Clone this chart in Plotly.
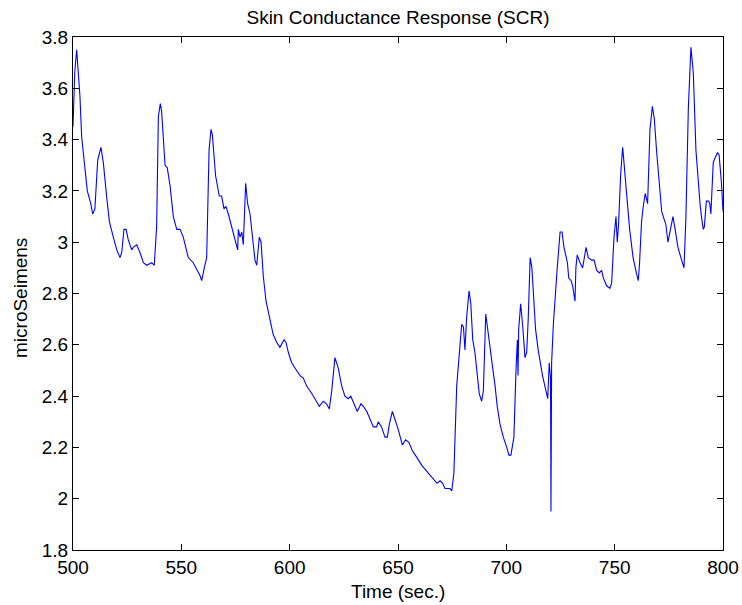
import plotly.graph_objects as go

time_sec = [
    500.0, 500.8, 501.7, 503.2, 504.0, 505.1, 506.6, 508.2, 509.1, 510.1,
    511.4, 512.9, 514.0, 515.5, 516.8, 518.6, 520.2, 521.7, 522.5, 523.5,
    524.5, 525.5, 527.1, 527.8, 529.4, 530.9, 532.5, 534.0, 536.3, 537.5,
    538.6, 539.4, 540.3, 540.9, 542.5, 543.5, 544.8, 546.3, 547.9, 549.4,
    550.9, 553.2, 555.5, 558.6, 559.4, 560.6, 561.7, 562.8, 563.7, 564.3,
    565.8, 567.5, 568.6, 569.7, 570.6, 571.7, 573.2, 575.5, 576.0, 576.3,
    577.1, 577.9, 578.6, 579.7, 580.6, 581.7, 582.5, 584.0, 584.8, 586.0,
    586.8, 587.8, 589.1, 590.9, 592.4, 594.0, 595.5, 597.4, 598.3, 599.4,
    600.9, 603.2, 604.8, 606.3, 607.8, 610.2, 612.2, 613.7, 615.5, 617.0,
    618.3, 619.4, 620.9, 622.4, 624.0, 625.5, 627.0, 628.2, 629.2, 631.2,
    632.9, 634.0, 635.6, 637.1, 638.6, 640.1, 640.9, 642.4, 644.0, 645.1,
    646.0, 647.4, 648.6, 650.1, 652.0, 653.5, 655.0, 656.5, 658.0, 661.0,
    664.0, 666.0, 668.0, 669.4, 670.6, 671.7, 674.0, 674.8, 675.8, 677.1,
    678.6, 679.4, 680.2, 680.9, 681.7, 682.8, 683.6, 684.5, 685.5, 686.6,
    687.5, 688.6, 689.4, 690.5, 691.7, 692.5, 693.7, 694.8, 695.8, 697.1,
    698.6, 700.2, 701.2, 702.1, 702.9, 703.5, 704.5, 705.1, 705.4, 705.7,
    706.6, 707.5, 708.6, 709.4, 710.1, 711.0, 711.8, 712.4, 713.5, 714.7,
    715.5, 716.7, 718.3, 719.1, 719.8, 720.4, 720.6, 720.9, 721.7, 722.5,
    723.5, 724.8, 725.7, 726.6, 727.5, 728.2, 728.8, 729.9, 730.6, 731.7,
    732.1, 732.7, 734.0, 735.2, 736.8, 737.8, 739.4, 740.5, 741.7, 742.9,
    744.0, 744.8, 746.3, 747.8, 748.6, 749.7, 750.6, 751.2, 751.8, 752.8,
    753.7, 754.4, 755.4, 756.9, 758.5, 760.0, 760.9, 761.5, 762.4, 763.2,
    764.1, 765.2, 766.3, 767.4, 768.3, 769.4, 770.6, 771.7, 772.8, 773.6,
    774.6, 775.4, 776.9, 778.1, 779.2, 780.9, 782.0, 782.9, 784.0, 785.2,
    786.3, 787.5, 788.6, 789.4, 790.2, 790.9, 791.4, 792.3, 793.4, 793.9,
    794.4, 795.5, 796.4, 797.5, 798.2, 799.3, 800.0,
]

micro_siemens = [
    3.45, 3.66, 3.75, 3.57, 3.41, 3.33, 3.20, 3.15, 3.11, 3.13,
    3.32, 3.37, 3.31, 3.18, 3.08, 3.02, 2.97, 2.94, 2.96, 3.05,
    3.05, 3.01, 2.97, 2.98, 2.99, 2.96, 2.92, 2.91, 2.92, 2.91,
    3.06, 3.49, 3.54, 3.51, 3.30, 3.29, 3.22, 3.10, 3.05, 3.05,
    3.02, 2.94, 2.92, 2.87, 2.85, 2.90, 2.94, 3.36, 3.44, 3.42,
    3.26, 3.18, 3.18, 3.13, 3.14, 3.11, 3.06, 2.99, 2.97, 3.05,
    3.02, 3.04, 2.99, 3.23, 3.15, 3.11, 3.05, 2.93, 2.91, 3.02,
    3.00, 2.87, 2.77, 2.70, 2.64, 2.61, 2.59, 2.62, 2.61, 2.57,
    2.53, 2.50, 2.48, 2.47, 2.44, 2.41, 2.38, 2.36, 2.38, 2.37,
    2.35, 2.42, 2.55, 2.51, 2.44, 2.40, 2.39, 2.40, 2.38, 2.34,
    2.37, 2.36, 2.34, 2.31, 2.28, 2.28, 2.30, 2.28, 2.24, 2.24,
    2.29, 2.34, 2.31, 2.27, 2.21, 2.23, 2.22, 2.19, 2.17, 2.13,
    2.10, 2.08, 2.06, 2.07, 2.06, 2.04, 2.04, 2.03, 2.10, 2.44,
    2.62, 2.68, 2.67, 2.58, 2.71, 2.81, 2.76, 2.62, 2.57, 2.48,
    2.41, 2.38, 2.42, 2.72, 2.64, 2.57, 2.51, 2.44, 2.36, 2.29,
    2.24, 2.20, 2.17, 2.17, 2.22, 2.24, 2.51, 2.62, 2.48, 2.66,
    2.76, 2.68, 2.55, 2.57, 2.70, 2.94, 2.90, 2.81, 2.66, 2.58,
    2.54, 2.48, 2.42, 2.39, 2.53, 2.47, 1.95, 2.53, 2.68, 2.80,
    2.90, 3.04, 3.04, 2.98, 2.94, 2.92, 2.86, 2.85, 2.83, 2.77,
    2.90, 2.95, 2.92, 2.90, 2.98, 2.94, 2.93, 2.93, 2.89, 2.88,
    2.89, 2.86, 2.83, 2.82, 2.84, 3.02, 3.10, 3.00, 3.07, 3.27,
    3.37, 3.31, 3.20, 3.05, 2.94, 2.88, 2.85, 2.92, 3.08, 3.14,
    3.19, 3.15, 3.44, 3.53, 3.48, 3.35, 3.24, 3.12, 3.09, 3.07,
    3.00, 3.04, 3.10, 3.04, 2.98, 2.93, 2.90, 3.10, 3.52, 3.76,
    3.66, 3.36, 3.22, 3.15, 3.09, 3.05, 3.06, 3.16, 3.16, 3.15,
    3.11, 3.31, 3.33, 3.35, 3.34, 3.23, 3.12,
]

x_ticks = [500, 550, 600, 650, 700, 750, 800]
y_ticks = [1.8, 2.0, 2.2, 2.4, 2.6, 2.8, 3.0, 3.2, 3.4, 3.6, 3.8]
y_tick_labels = ["1.8", "2", "2.2", "2.4", "2.6", "2.8", "3", "3.2", "3.4", "3.6", "3.8"]

title_text = "Skin Conductance Response (SCR)"
x_label = "Time (sec.)"
y_label = "microSeimens"

FONT = "Liberation Sans, Arial, sans-serif"

fig = go.Figure()
fig.add_trace(go.Scatter(
    x=time_sec, y=micro_siemens, mode="lines",
    line=dict(color="#0000FF", width=1.1), showlegend=False,
    hoverinfo="x+y",
))

axis_common = dict(
    showgrid=False, zeroline=False, showline=True, linecolor="black",
    linewidth=1, mirror="allticks", ticks="inside", ticklen=6,
    tickcolor="black", tickwidth=1, automargin=False,
    tickfont=dict(family=FONT, size=19, color="black"),
)

fig.update_layout(
    width=742, height=605,
    paper_bgcolor="white", plot_bgcolor="white",
    margin=dict(l=73, r=19, t=37, b=55, pad=0, autoexpand=False),
    font=dict(family=FONT, size=19, color="black"),
    title=dict(text=title_text, x=398 / 742, xref="container", xanchor="center",
               y=1 - 17 / 605, yref="container", yanchor="middle",
               font=dict(family=FONT, size=19, color="black")),
    xaxis=dict(range=[500, 800], tickvals=x_ticks, **axis_common),
    yaxis=dict(range=[1.8, 3.8], tickvals=y_ticks, ticktext=y_tick_labels, **axis_common),
    annotations=[
        dict(text=x_label, xref="paper", yref="paper", x=0.5, y=(550 - 591) / 513,
             xanchor="center", yanchor="middle", showarrow=False,
             font=dict(family=FONT, size=19, color="black")),
        dict(text=y_label, xref="paper", yref="paper", x=(20 - 73) / 650, y=(550 - 298) / 513,
             xanchor="center", yanchor="middle", showarrow=False, textangle=-90,
             font=dict(family=FONT, size=19, color="black")),
    ],
)

fig.write_html(
    "out.html",
    config={"displayModeBar": False},
    post_script="document.body.style.margin='0';document.body.style.padding='0';",
)
